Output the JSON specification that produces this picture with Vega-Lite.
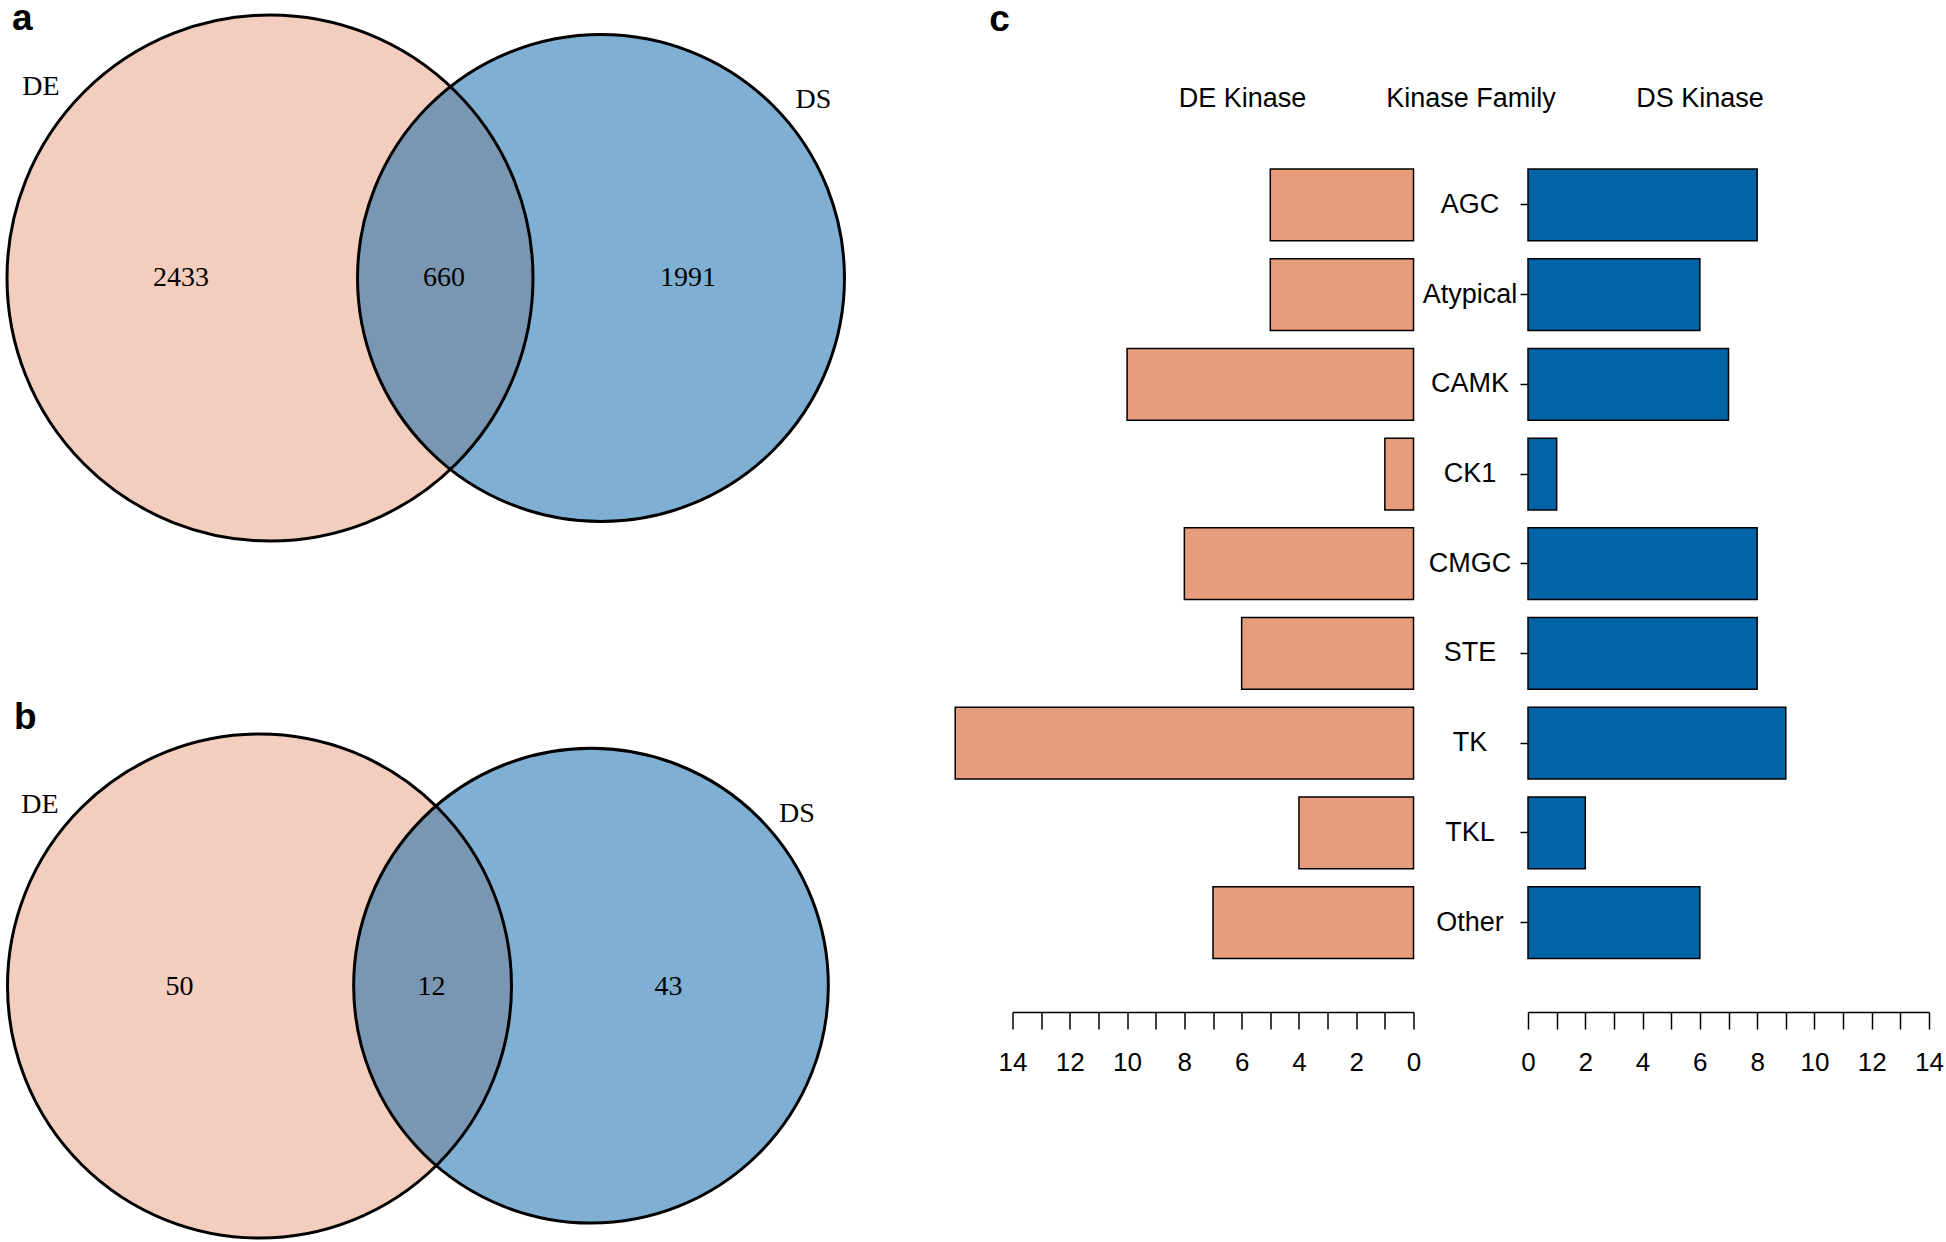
{
  "$schema": "https://vega.github.io/schema/vega-lite/v6.json",
  "padding": 0,
  "background": "white",
  "bounds": "flush",
  "spacing": 114.5,
  "config": {"view": {"stroke": null}, "font": "Liberation Sans"},
  "resolve": {"scale": {"x": "independent", "y": "independent", "size": "independent", "color": "independent"}},
  "datasets": {
    "kinase": [
      {"family": "AGC", "DE": 5, "DS": 8},
      {"family": "Atypical", "DE": 5, "DS": 6},
      {"family": "CAMK", "DE": 10, "DS": 7},
      {"family": "CK1", "DE": 1, "DS": 1},
      {"family": "CMGC", "DE": 8, "DS": 8},
      {"family": "STE", "DE": 6, "DS": 8},
      {"family": "TK", "DE": 16, "DS": 9},
      {"family": "TKL", "DE": 4, "DS": 2},
      {"family": "Other", "DE": 7, "DS": 6}
    ],
    "vennA": [
      {"set": "DE", "x": 2.69, "y": 2.77, "total": 3093},
      {"set": "DS", "x": 6.0, "y": 2.77, "total": 2651}
    ],
    "vennB": [
      {"set": "DE", "x": 2.585, "y": 9.85, "total": 62},
      {"set": "DS", "x": 5.9, "y": 9.847, "total": 55}
    ]
  },
  "hconcat": [
    {
      "width": 897,
      "height": 1242,
      "resolve": {"scale": {"size": "independent"}},
      "encoding": {
        "x": {"field": "x", "type": "quantitative", "scale": {"domain": [0, 8.97], "nice": false, "zero": false}, "axis": null},
        "y": {"field": "y", "type": "quantitative", "scale": {"domain": [0, 12.42], "nice": false, "zero": false, "reverse": true}, "axis": null}
      },
      "layer": [
        {
          "data": {"name": "vennA"},
          "mark": {"type": "point", "shape": "circle", "filled": true, "opacity": 1, "fillOpacity": 0.5, "strokeWidth": 0},
          "encoding": {
            "size": {"field": "total", "type": "quantitative", "scale": {"domain": [0, 3093], "range": [0, 276676], "zero": true}, "legend": null},
            "color": {"field": "set", "type": "nominal", "scale": {"domain": ["DE", "DS"], "range": ["#E79C7C", "#0062A8"]}, "legend": null}
          }
        },
        {
          "data": {"name": "vennA"},
          "mark": {"type": "point", "shape": "circle", "filled": false, "opacity": 1, "stroke": "black", "strokeWidth": 3},
          "encoding": {
            "size": {"field": "total", "type": "quantitative", "scale": {"domain": [0, 3093], "range": [0, 276676], "zero": true}, "legend": null}
          }
        },
        {
          "data": {"name": "vennB"},
          "mark": {"type": "point", "shape": "circle", "filled": true, "opacity": 1, "fillOpacity": 0.5, "strokeWidth": 0},
          "encoding": {
            "size": {"field": "total", "type": "quantitative", "scale": {"domain": [0, 62], "range": [0, 254016], "zero": true}, "legend": null},
            "color": {"field": "set", "type": "nominal", "scale": {"domain": ["DE", "DS"], "range": ["#E79C7C", "#0062A8"]}, "legend": null}
          }
        },
        {
          "data": {"name": "vennB"},
          "mark": {"type": "point", "shape": "circle", "filled": false, "opacity": 1, "stroke": "black", "strokeWidth": 3},
          "encoding": {
            "size": {"field": "total", "type": "quantitative", "scale": {"domain": [0, 62], "range": [0, 254016], "zero": true}, "legend": null}
          }
        },
        {
          "data": {"values": [
            {"label": "DE", "x": 0.40, "y": 0.86},
            {"label": "DS", "x": 8.125, "y": 0.99},
            {"label": "2433", "x": 1.80, "y": 2.765},
            {"label": "660", "x": 4.43, "y": 2.765},
            {"label": "1991", "x": 6.87, "y": 2.765},
            {"label": "DE", "x": 0.39, "y": 8.04},
            {"label": "DS", "x": 7.96, "y": 8.128},
            {"label": "50", "x": 1.785, "y": 9.858},
            {"label": "12", "x": 4.305, "y": 9.858},
            {"label": "43", "x": 6.675, "y": 9.858}
          ]},
          "mark": {"type": "text", "font": "Liberation Serif", "fontSize": 28, "color": "black", "align": "center", "baseline": "middle"},
          "encoding": {"text": {"field": "label"}}
        },
        {
          "data": {"values": [
            {"label": "a", "x": 0.11, "y": 0.0},
            {"label": "b", "x": 0.13, "y": 6.99}
          ]},
          "mark": {"type": "text", "font": "Liberation Sans", "fontSize": 37, "fontWeight": "bold", "color": "black", "align": "left", "baseline": "top"},
          "encoding": {"text": {"field": "label"}}
        }
      ]
    },
    {
      "width": 401,
      "height": 968.8,
      "data": {"name": "kinase"},
      "mark": {"type": "bar", "fill": "#E79C7C", "stroke": "black", "strokeWidth": 1.5},
      "encoding": {
        "y": {
          "field": "family", "type": "nominal",
          "scale": {"domain": ["AGC", "Atypical", "CAMK", "CK1", "CMGC", "STE", "TK", "TKL", "Other"], "paddingInner": 0.2, "paddingOuter": 1, "align": 0.9365},
          "axis": {"title": "DE Kinase", "labels": false, "ticks": false, "domain": false, "grid": false, "titleAngle": 0, "titleX": 229.5, "titleY": 97.5, "titleAlign": "center", "titleBaseline": "middle", "titleFont": "Liberation Sans", "titleFontSize": 27, "titleFontWeight": "normal", "titleColor": "black"}
        },
        "x": {
          "field": "DE", "type": "quantitative",
          "scale": {"domain": [0, 14], "nice": false, "reverse": true},
          "axis": {
            "values": [0, 1, 2, 3, 4, 5, 6, 7, 8, 9, 10, 11, 12, 13, 14],
            "labelExpr": "datum.value % 2 === 0 ? datum.label : ''",
            "labelOverlap": false, "labelFlush": false, "grid": false, "offset": 42.2,
            "tickSize": 17, "tickColor": "black", "tickWidth": 1.5,
            "domainColor": "black", "domainWidth": 1.5,
            "labelFont": "Liberation Sans", "labelFontSize": 26, "labelColor": "black", "labelPadding": 33, "labelBaseline": "middle",
            "title": "c", "titleX": -13.5, "titleY": -1011, "titleAngle": 0, "titleAlign": "center", "titleBaseline": "top",
            "titleFont": "Liberation Sans", "titleFontSize": 37, "titleFontWeight": "bold", "titleColor": "black"
          }
        }
      }
    },
    {
      "width": 401,
      "height": 968.8,
      "data": {"name": "kinase"},
      "encoding": {
        "y": {
          "field": "family", "type": "nominal",
          "scale": {"domain": ["AGC", "Atypical", "CAMK", "CK1", "CMGC", "STE", "TK", "TKL", "Other"], "paddingInner": 0.2, "paddingOuter": 1, "align": 0.9365},
          "axis": {
            "domain": false, "grid": false, "ticks": true, "tickSize": 8, "tickColor": "black", "tickWidth": 1.5,
            "labelAlign": "center", "labelBaseline": "middle", "labelPadding": 50.5, "labelFont": "Liberation Sans", "labelFontSize": 27, "labelColor": "black",
            "title": "Kinase Family", "titleAngle": 0, "titleX": -57.5, "titleY": 97.5, "titleAlign": "center", "titleBaseline": "middle",
            "titleFont": "Liberation Sans", "titleFontSize": 27, "titleFontWeight": "normal", "titleColor": "black"
          }
        },
        "x": {
          "field": "DS", "type": "quantitative",
          "scale": {"domain": [0, 14], "nice": false},
          "axis": {
            "values": [0, 1, 2, 3, 4, 5, 6, 7, 8, 9, 10, 11, 12, 13, 14],
            "labelExpr": "datum.value % 2 === 0 ? datum.label : ''",
            "labelOverlap": false, "labelFlush": false, "grid": false, "offset": 42.2,
            "tickSize": 17, "tickColor": "black", "tickWidth": 1.5,
            "domainColor": "black", "domainWidth": 1.5,
            "labelFont": "Liberation Sans", "labelFontSize": 26, "labelColor": "black", "labelPadding": 33, "labelBaseline": "middle",
            "title": "DS Kinase", "titleX": 171.5, "titleY": -913.5, "titleAngle": 0, "titleAlign": "center", "titleBaseline": "middle",
            "titleFont": "Liberation Sans", "titleFontSize": 27, "titleFontWeight": "normal", "titleColor": "black"
          }
        }
      },
      "layer": [
        {
          "data": {"values": [{}]},
          "mark": {"type": "rule", "color": "black", "strokeWidth": 1.5},
          "encoding": {
            "x": {"datum": 0, "type": "quantitative"},
            "y": {"datum": "AGC", "type": "nominal"},
            "y2": {"datum": "Other"}
          }
        },
        {
          "mark": {"type": "bar", "fill": "#0064A6", "stroke": "black", "strokeWidth": 1.5}
        }
      ]
    }
  ]
}
